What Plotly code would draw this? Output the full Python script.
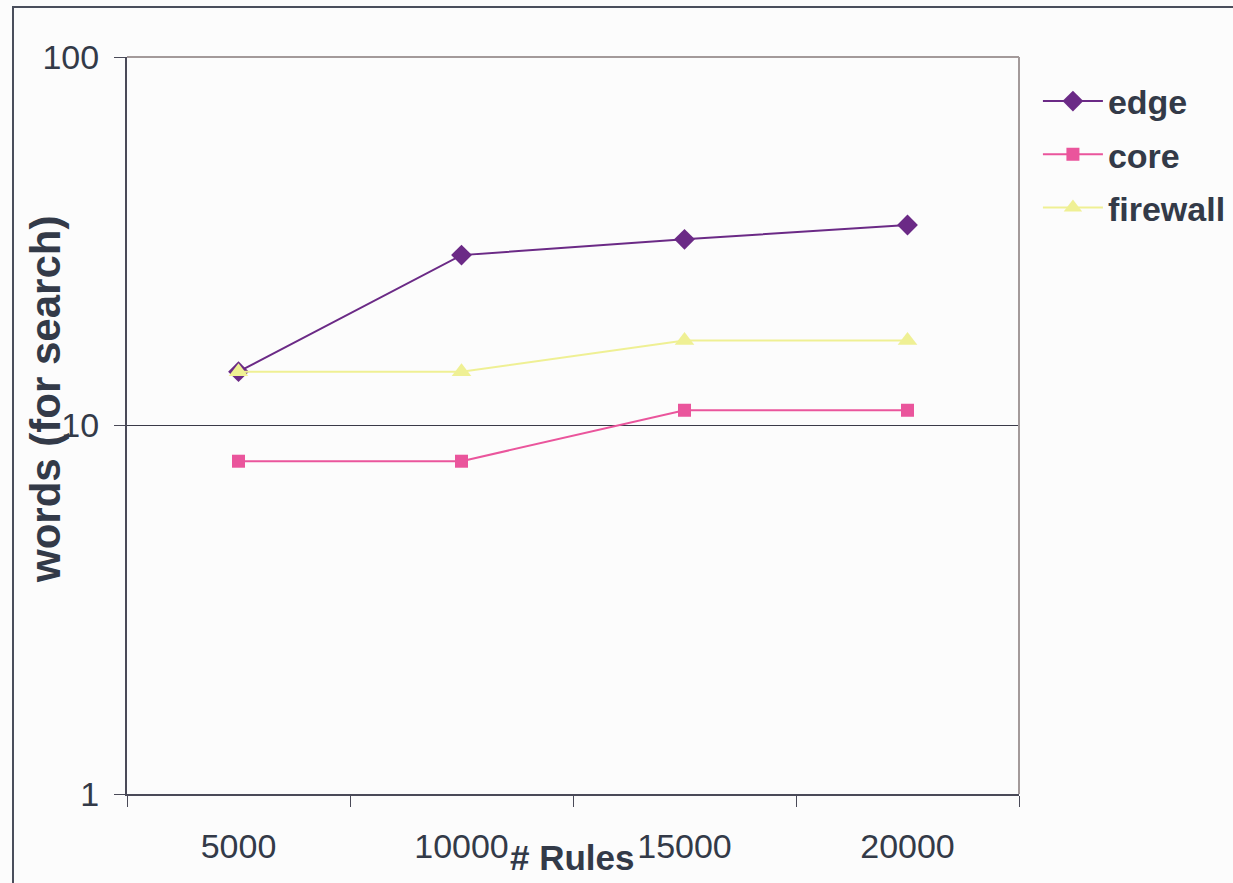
import plotly.graph_objects as go

# Number of rules (category axis)
rules = ["5000", "10000", "15000", "20000"]

# Memory words needed for a search, per rule set
edge = [14, 29, 32, 35]
core = [8, 8, 11, 11]
firewall = [14, 14, 17, 17]

y_ticks = [1, 10, 100]
y_tick_text = ["1", "10", "100"]

TEXT = "#333a48"
AXIS = "#4a4a58"
FRAME = "#a39a9a"
FONT = "Liberation Sans, Arial, sans-serif"

fig = go.Figure()

series = [
    ("edge", edge, "#6b2a86", "diamond", 16),
    ("core", core, "#ea559c", "square", 13),
    ("firewall", firewall, "#eff094", "triangle-up", 17),
]
for name, vals, color, symbol, size in series:
    fig.add_trace(go.Scatter(
        x=rules, y=vals, name=name, legendgroup=name, mode="lines+markers",
        line=dict(color=color, width=2),
        marker=dict(symbol=symbol, size=size, color=color, line=dict(width=0)),
    ))

fig.update_layout(
    width=1233, height=883,
    margin=dict(l=127, r=214, t=57, b=89, autoexpand=False),
    paper_bgcolor="#fcfcfc", plot_bgcolor="#fcfcfc",
    font=dict(family=FONT, size=34, color=TEXT),
    showlegend=True,
    legend=dict(
        x=1.01 + 10 / 892, y=0.979, xanchor="left", yanchor="top",
        font=dict(family=FONT, size=34, color=TEXT, weight="bold"),
        bgcolor="rgba(0,0,0,0)", itemwidth=60,
        traceorder="grouped", tracegroupgap=6,
    ),
    xaxis=dict(
        type="category", range=[-0.5, 3.5], tickson="boundaries",
        ticks="outside", ticklen=11, tickcolor=AXIS, tickwidth=1,
        showline=True, linecolor=AXIS, linewidth=2,
        showgrid=False, zeroline=False, automargin=False,
        ticklabelstandoff=21,
        tickfont=dict(family=FONT, size=34, color=TEXT),
    ),
    yaxis=dict(
        type="log", range=[0, 2],
        tickvals=y_ticks, ticktext=y_tick_text,
        ticks="outside", ticklen=11, tickcolor=AXIS, tickwidth=1,
        showline=True, linecolor=AXIS, linewidth=2,
        showgrid=True, gridcolor="#3a3a48", gridwidth=1,
        zeroline=False, automargin=False, ticklabelstandoff=8,
        tickfont=dict(family=FONT, size=34, color=TEXT),
    ),
    shapes=[
        # grey frame along top and right of the plot area
        dict(type="line", xref="paper", yref="paper", x0=0, x1=1, y0=1, y1=1,
             line=dict(color=FRAME, width=2), layer="above"),
        dict(type="line", xref="paper", yref="paper", x0=1, x1=1, y0=0, y1=1,
             line=dict(color=FRAME, width=2), layer="above"),
        # outer chart border
        dict(type="rect", xref="paper", yref="paper",
             x0=-0.1278, x1=1.26, y0=-0.14, y1=1.0679,
             line=dict(color="#4a4e5c", width=2), layer="below"),
    ],
    annotations=[
        dict(text="<b>words (for search)</b>", textangle=-90,
             xref="paper", yref="paper", x=(45 - 127) / 892, y=(794 - 400) / 737,
             xanchor="center", yanchor="middle", showarrow=False,
             font=dict(family=FONT, size=42, color=TEXT)),
        dict(text="<b># Rules</b>",
             xref="paper", yref="paper", x=(572 - 127) / 892, y=(794 - 857) / 737,
             xanchor="center", yanchor="middle", showarrow=False,
             font=dict(family=FONT, size=35, color=TEXT)),
    ],
)

fig.write_html("out.html")
